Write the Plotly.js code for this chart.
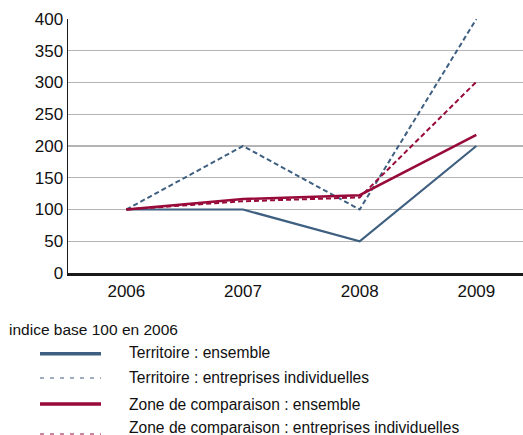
<!DOCTYPE html>
<html>
<head>
<meta charset="utf-8">
<script src="https://cdn.plot.ly/plotly-3.0.1.min.js"></script>
<style>html,body{margin:0;padding:0;background:#fff;}#chart{width:523px;height:435px;}</style>
</head>
<body>
<div id="chart"></div>
<script>
var years = ['2006', '2007', '2008', '2009'];
var territoireEnsemble = [100, 100, 50, 200];
var territoireEI = [100, 200, 100, 400];
var zoneEnsemble = [100, 116.5, 122.5, 217.5];
var zoneEI = [100, 113, 119, 301];
var seriesNames = [
  'Territoire : ensemble',
  'Territoire : entreprises individuelles',
  'Zone de comparaison : ensemble',
  'Zone de comparaison : entreprises individuelles'
];
var legendTitle = 'indice base 100 en 2006';

var FONT = '"Liberation Sans", Arial, sans-serif';
var BLUE = '#3e5f80', RED = '#980a3a';
var W = 523, H = 435, L = 68, T = 19, B = 273, R = 523;
function px(x) { return (x - L) / (R - L); }
function py(y) { return (B - y) / (B - T); }

var traces = [
  {x: years, y: territoireEI, name: seriesNames[1], mode: 'lines', line: {color: BLUE, width: 2, dash: '5px,3px'}},
  {x: years, y: territoireEnsemble, name: seriesNames[0], mode: 'lines', line: {color: BLUE, width: 2.2}},
  {x: years, y: zoneEnsemble, name: seriesNames[2], mode: 'lines', line: {color: RED, width: 2.5}},
  {x: years, y: zoneEI, name: seriesNames[3], mode: 'lines', line: {color: RED, width: 2, dash: '5px,3px'}}
];

var legendRows = [
  {y: 353.7, ty: 353, color: BLUE, width: 3.5, dash: 'solid'},
  {y: 378, ty: 377.7, color: BLUE, width: 1.2, dash: '4px,6px'},
  {y: 404, ty: 404, color: RED, width: 3.5, dash: 'solid'},
  {y: 434, ty: 427.7, color: RED, width: 1.2, dash: '4px,6px'}
];
var shapes = [], annotations = [];
legendRows.forEach(function (r, i) {
  shapes.push({type: 'line', xref: 'paper', yref: 'paper', x0: px(40), x1: px(101), y0: py(r.y), y1: py(r.y),
    line: {color: r.color, width: r.width, dash: r.dash}});
  annotations.push({xref: 'paper', yref: 'paper', x: px(127), y: py(r.ty), xanchor: 'left', yanchor: 'middle',
    text: seriesNames[i], showarrow: false, font: {family: FONT, size: 15.6, color: '#111'}});
});
annotations.push({xref: 'paper', yref: 'paper', x: px(7), y: py(329), xanchor: 'left', yanchor: 'middle',
  text: legendTitle, showarrow: false, font: {family: FONT, size: 15.5, color: '#111'}});

var layout = {
  width: W, height: H,
  margin: {l: L, r: W - R, t: T, b: H - B, pad: 0},
  paper_bgcolor: '#fff', plot_bgcolor: '#fff',
  showlegend: false,
  font: {family: FONT, color: '#111'},
  xaxis: {type: 'category', range: [-0.5, 3.4], showgrid: false, zeroline: false,
    showline: true, linecolor: '#1a1a1a', linewidth: 2.5, ticks: '', tickfont: {size: 17, family: FONT}, ticklabelstandoff: 1},
  yaxis: {range: [0, 400], dtick: 50, showgrid: true, gridcolor: '#b4b4b4', gridwidth: 1.3, zeroline: false,
    showline: true, linecolor: '#1a1a1a', linewidth: 1.5, ticks: '', tickfont: {size: 17, family: FONT}, ticklabelstandoff: 0},
  shapes: shapes,
  annotations: annotations
};
Plotly.newPlot('chart', traces, layout, {displayModeBar: false, staticPlot: true});
</script>
</body>
</html>
